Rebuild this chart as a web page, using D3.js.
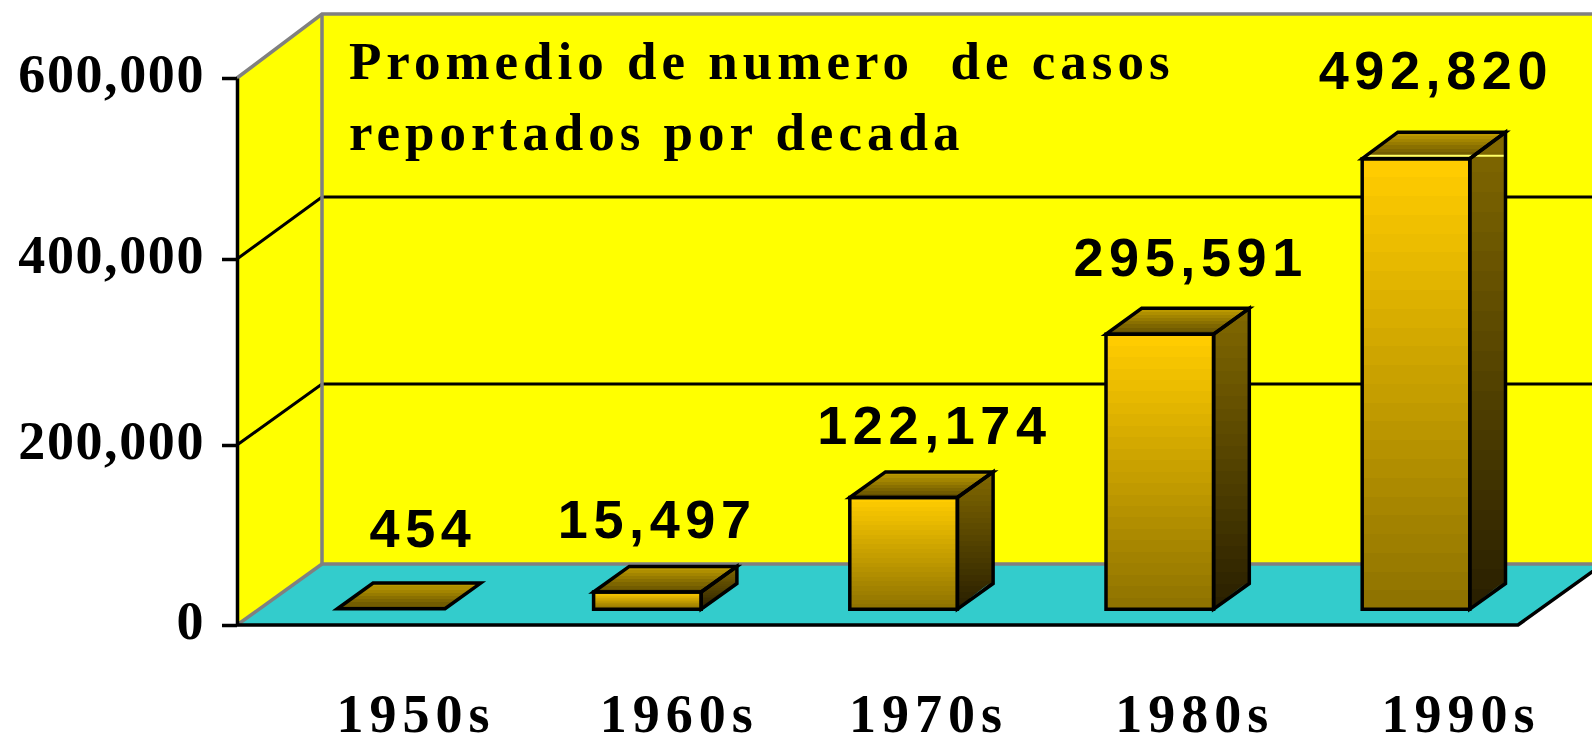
<!DOCTYPE html>
<html>
<head>
<meta charset="utf-8">
<script src="https://cdnjs.cloudflare.com/ajax/libs/d3/7.8.5/d3.min.js"></script>
<style>
  html, body { margin: 0; padding: 0; background: #fff; overflow: hidden; }
  svg { display: block; }
  .tick-label, .x-label, .title { font-family: "Liberation Serif", serif; font-weight: bold; fill: #000; }
  .value-label { font-family: "Liberation Sans", sans-serif; font-weight: bold; fill: #000; }
</style>
</head>
<body>
<svg id="chart" width="1592" height="734"></svg>
<script>
// ─── Data ────────────────────────────────────────────────────────────────────
const decades = ['1950s', '1960s', '1970s', '1980s', '1990s'];
const printedValues = [454, 15497, 122174, 295591, 492820];
// Bar heights as they sit against the axis in the picture (not always the printed number)
const barHeights = [454, 19000, 124000, 302000, 492820];
const yTicks = [0, 200000, 400000, 600000];
const titleLines = ['Promedio de numero  de casos', 'reportados por decada'];

// ─── Layout ──────────────────────────────────────────────────────────────────
const COL_WALL = '#ffff00', COL_FLOOR = '#33cccc', COL_EDGE = '#808080';
const BAR_Z0 = 0.26, BAR_Z1 = 0.68;   // bar front / back inside the floor depth
const DEPTH_X = 85;
const labelNudge = [[14, -36], [-8, -28], [13, -28], [13, -32], [2, -43]];
const xLabelNudge = [2, 4, -8, -3, 2];

const svg = d3.select('#chart');
const defs = svg.append('defs');

const x = d3.scaleBand().domain(decades).range([241, 1522]).paddingInner(0.58).paddingOuter(0.29);
const xLabel = d3.scalePoint().domain(decades).range([414, 1459]);
// The gridlines in the picture are not evenly spaced, so the scales carry all four ticks
const yFront = d3.scaleLinear().domain(yTicks).range([625, 445, 259, 78]);
const yBack  = d3.scaleLinear().domain(yTicks).range([564, 384, 197, 14]);

// Point on the chart box: horizontal pixel on the front edge, value, depth 0..1
const project = (px, v, z) => [px + DEPTH_X * z, yFront(v) * (1 - z) + yBack(v) * z];
const pts = list => list.map(p => p.join(',')).join(' ');

// Stepped gradients, the original fills are visibly banded
function bandedGradient(id, from, to, steps) {
  const grad = defs.append('linearGradient').attr('id', id)
    .attr('x1', 0).attr('y1', 0).attr('x2', 0).attr('y2', 1);
  const mix = d3.interpolateRgb(from, to);
  d3.range(steps).forEach(i => {
    const c = mix(i / (steps - 1));
    grad.append('stop').attr('offset', i / steps).attr('stop-color', c);
    grad.append('stop').attr('offset', (i + 1) / steps).attr('stop-color', c);
  });
}
bandedGradient('bar-front', '#ffcc00', '#8f7300', 24);
bandedGradient('bar-side', '#806700', '#2a2000', 24);
bandedGradient('bar-top', '#bb9900', '#665200', 8);

// ─── Walls and floor ─────────────────────────────────────────────────────────
const x0 = 237, x1 = 1518, vMax = 600000;
svg.append('polygon').attr('fill', COL_WALL)
  .attr('points', pts([project(x0, vMax, 1), project(x1, vMax, 1), project(x1, 0, 1), project(x0, 0, 1)]));
svg.append('polygon').attr('fill', COL_WALL)
  .attr('points', pts([project(x0, vMax, 0), project(x0, vMax, 1), project(x0, 0, 1), project(x0, 0, 0)]));
svg.append('polygon').attr('fill', COL_FLOOR)
  .attr('points', pts([project(x0, 0, 0), project(x0, 0, 1), project(x1, 0, 1), project(x1, 0, 0)]));

// Grid lines: along the left wall, then along the back wall
const grid = svg.append('g').attr('stroke', '#000').attr('stroke-width', 3).attr('fill', 'none');
yTicks.filter(v => v > 0 && v < vMax).forEach(v => {
  grid.append('polyline').attr('points', pts([project(x0, v, 0), project(x0, v, 1), project(x1, v, 1)]));
});

// Grey wall edges
svg.append('polyline').attr('fill', 'none').attr('stroke', COL_EDGE).attr('stroke-width', 3.5)
  .attr('points', pts([project(x0, vMax, 0), project(x0, vMax, 1), project(x1, vMax, 1)]));
svg.append('polyline').attr('fill', 'none').attr('stroke', COL_EDGE).attr('stroke-width', 3.5)
  .attr('points', pts([project(x0, vMax, 1), project(x0, 0, 1), project(x1, 0, 1)]));
svg.append('line').attr('stroke', COL_EDGE).attr('stroke-width', 3.5)
  .attr('x1', project(x0, 0, 0)[0]).attr('y1', project(x0, 0, 0)[1])
  .attr('x2', project(x0, 0, 1)[0]).attr('y2', project(x0, 0, 1)[1]);

// Black front edge of the floor
svg.append('polyline').attr('fill', 'none').attr('stroke', '#000').attr('stroke-width', 3.5)
  .attr('points', pts([project(x0, 0, 0), project(x1, 0, 0), project(x1, 0, 1)]));

// ─── Axes ────────────────────────────────────────────────────────────────────
const yAxis = svg.append('g').attr('transform', `translate(${x0},0)`)
  .call(d3.axisLeft(yFront).tickValues(yTicks).tickSize(15).tickSizeOuter(0).tickFormat(d3.format(',')));
yAxis.select('.domain').attr('stroke', '#000').attr('stroke-width', 3.5);
yAxis.selectAll('.tick line').attr('stroke', '#000').attr('stroke-width', 3.5);
yAxis.selectAll('.tick text')
  .attr('class', 'tick-label')
  .attr('x', -32).attr('dy', '0.25em')
  .attr('font-size', 54).attr('letter-spacing', 1.6);

svg.append('g').selectAll('text').data(decades).join('text')
  .attr('class', 'x-label')
  .attr('x', (d, i) => xLabel(d) + xLabelNudge[i])
  .attr('y', 732)
  .attr('text-anchor', 'middle')
  .attr('font-size', 54).attr('letter-spacing', 6)
  .text(d => d);

// ─── Bars ────────────────────────────────────────────────────────────────────
const maxIdx = barHeights.indexOf(d3.max(barHeights));
decades.forEach((d, i) => {
  const l = x(d), r = l + x.bandwidth(), v = barHeights[i];
  const g = svg.append('g');
  const fl = project(l, 0, BAR_Z0), fr = project(r, 0, BAR_Z0);
  const tl = project(l, v, BAR_Z0), tr = project(r, v, BAR_Z0);
  const bl = project(l, v, BAR_Z1), br = project(r, v, BAR_Z1);
  const sb = project(r, 0, BAR_Z1);
  const faces = [
    { cls: 'side', fill: 'url(#bar-side)', p: [tr, br, sb, fr] },
    { cls: 'top', fill: 'url(#bar-top)', p: [tl, bl, br, tr] },
    { cls: 'front', fill: 'url(#bar-front)', p: [tl, tr, fr, fl] }
  ];
  g.selectAll('polygon.fill').data(faces).join('polygon')
    .attr('class', 'fill').attr('fill', f => f.fill).attr('points', f => pts(f.p));

  // Floor showing through under the side face on the taller bars
  if (i >= 2) {
    const a = d3.interpolate(fr, sb);
    g.append('polygon').attr('fill', COL_FLOOR).attr('opacity', i === 2 ? 0.9 : 0.35)
      .attr('points', pts([a(0.35), a(0.9), [a(0.9)[0], a(0.9)[1] - 3], [a(0.35)[0], a(0.35)[1] - 2]]));
  }
  // Pale sliver above the tallest bar's front edge
  if (i === maxIdx) {
    g.append('line').attr('stroke', '#ffff66').attr('stroke-width', 2)
      .attr('x1', tl[0]).attr('y1', tl[1] - 3).attr('x2', br[0]).attr('y2', tl[1] - 3);
  }

  g.selectAll('polygon.edge').data(i === 0 ? faces.slice(1, 2) : faces).join('polygon')
    .attr('class', 'edge').attr('fill', 'none').attr('stroke', '#000').attr('stroke-width', 3.5)
    .attr('stroke-linejoin', 'miter').attr('points', f => pts(f.p));

  svg.append('text').attr('class', 'value-label')
    .attr('x', (tl[0] + br[0]) / 2 + labelNudge[i][0])
    .attr('y', br[1] + labelNudge[i][1])
    .attr('text-anchor', 'middle')
    .attr('font-size', 54).attr('letter-spacing', 5.6)
    .text(d3.format(',')(printedValues[i]));
});

// ─── Title ───────────────────────────────────────────────────────────────────
svg.append('g').selectAll('text').data(titleLines).join('text')
  .attr('class', 'title')
  .attr('x', 349)
  .attr('y', (_, i) => 79 + i * 71)
  .attr('font-size', 53).attr('letter-spacing', 5)
  .style('white-space', 'pre')
  .text(d => d);
</script>
</body>
</html>
